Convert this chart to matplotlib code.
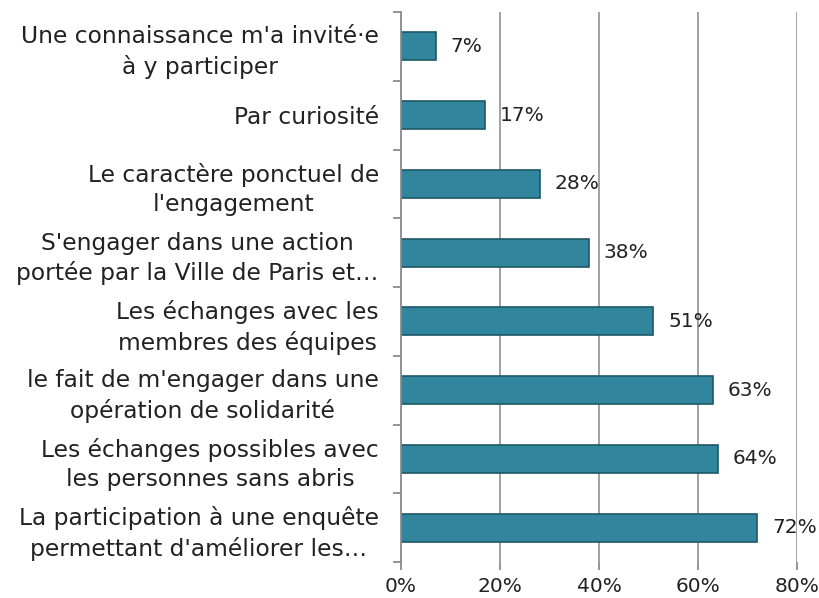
import matplotlib
matplotlib.use("Agg")
import matplotlib.pyplot as plt
from matplotlib.ticker import FixedLocator, PercentFormatter

plt.rcParams['font.family'] = ['DejaVu Sans']

categories = [
    "Une connaissance m'a invité·e\nà y participer",
    "Par curiosité",
    "Le caractère ponctuel de\nl'engagement",
    "S'engager dans une action\nportée par la Ville de Paris et…",
    "Les échanges avec les\nmembres des équipes",
    "le fait de m'engager dans une\nopération de solidarité",
    "Les échanges possibles avec\nles personnes sans abris",
    "La participation à une enquête\npermettant d'améliorer les…",
]
values = [7, 17, 28, 38, 51, 63, 64, 72]
x_ticks = [0, 20, 40, 60, 80]

fig = plt.figure(figsize=(8.19, 5.98), dpi=100)
ax = fig.add_axes([0.4896, 0.0602, 0.4835, 0.9197])

pos = list(range(len(categories)))
bar_color = "#31859C"
edge_color = "#1E5868"
ax.barh(pos, values, height=0.41, color=bar_color, edgecolor=edge_color,
        linewidth=1.2, zorder=3)

for p, v in zip(pos, values):
    ax.text(v + 3.0, p, f"{v}%", va="center", ha="left", fontsize=14.5,
            color="#222222", zorder=4)

ax.set_xlim(0, 80)
ax.set_ylim(len(categories) - 0.5, -0.5)

ax.set_yticks(pos)
ax.set_yticklabels(categories, fontsize=16.8, color="#222222",
                   multialignment="center", linespacing=1.35)
ax.yaxis.set_minor_locator(FixedLocator([i - 0.5 for i in range(len(categories) + 1)]))
ax.tick_params(axis="y", which="major", length=0, pad=16)
ax.tick_params(axis="y", which="minor", length=6, width=1.3, color="#8C8C8C")

ax.set_xticks(x_ticks)
ax.xaxis.set_major_formatter(PercentFormatter(decimals=0))
ax.tick_params(axis="x", which="major", length=6, width=1.3, color="#8C8C8C",
               labelsize=14.5, labelcolor="#222222", pad=5)

ax.grid(axis="x", color="#9A9A9A", linewidth=1.3, zorder=0)
for side in ("top", "right", "bottom"):
    ax.spines[side].set_visible(False)
ax.spines["left"].set_color("#8C8C8C")
ax.spines["left"].set_linewidth(1.3)
ax.spines["left"].set_zorder(5)

fig.savefig("out.png", dpi=100)
